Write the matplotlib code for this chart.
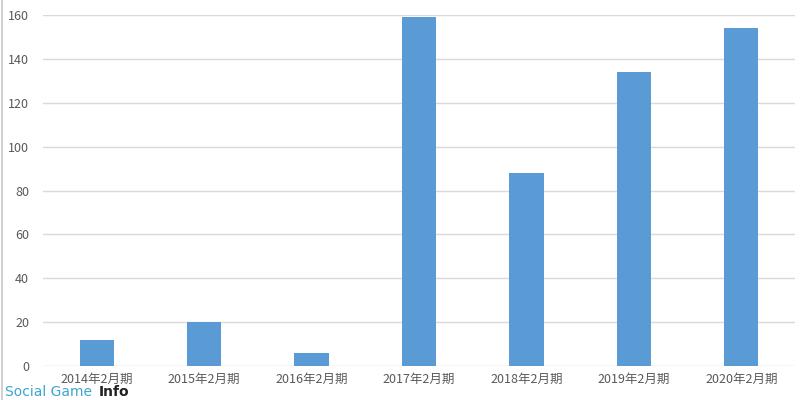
import matplotlib
matplotlib.use("Agg")
import matplotlib.pyplot as plt

plt.rcParams['font.family'] = ['Noto Sans CJK JP', 'DejaVu Sans']

categories = ["2014年2月期", "2015年2月期", "2016年2月期", "2017年2月期",
              "2018年2月期", "2019年2月期", "2020年2月期"]
values = [12, 20, 6, 159, 88, 134, 154]
yticks = [0, 20, 40, 60, 80, 100, 120, 140, 160]

fig = plt.figure(figsize=(8.1, 4.0), dpi=100)
ax = fig.add_axes([43/810, 34/400, 752/810, 351/400])

x = list(range(len(categories)))
ax.bar(x, values, width=0.32, color="#5b9bd5", zorder=3)
ax.set_xlim(-0.5, len(categories) - 0.5)
ax.set_ylim(0, 160)
ax.set_yticks(yticks)
ax.set_xticks(x)
ax.set_xticklabels(categories)
ax.grid(axis="y", color="#d9d9d9", linewidth=1, zorder=0)
for s in ax.spines.values():
    s.set_visible(False)
ax.tick_params(axis="both", length=0, labelsize=9, colors="#595959")
ax.tick_params(axis="y", pad=10)
ax.tick_params(axis="x", pad=5)

# left border of image
fig.add_artist(plt.Line2D([0.003, 0.003], [0, 1], color="#c8c8c8", lw=1.2,
                          transform=fig.transFigure))

# watermark
t1 = fig.text(5/810, 1/400, "Social Game ", color="#3aa6d0", fontsize=10,
              family=["DejaVu Sans"], va="bottom", ha="left")
fig.canvas.draw()
bb = t1.get_window_extent()
fig.text((bb.x1 + 2) / 810, 1/400, "Info", color="#222222", fontsize=10,
         fontweight="bold", family=["DejaVu Sans"], va="bottom", ha="left")

fig.savefig("out.png", dpi=100)
